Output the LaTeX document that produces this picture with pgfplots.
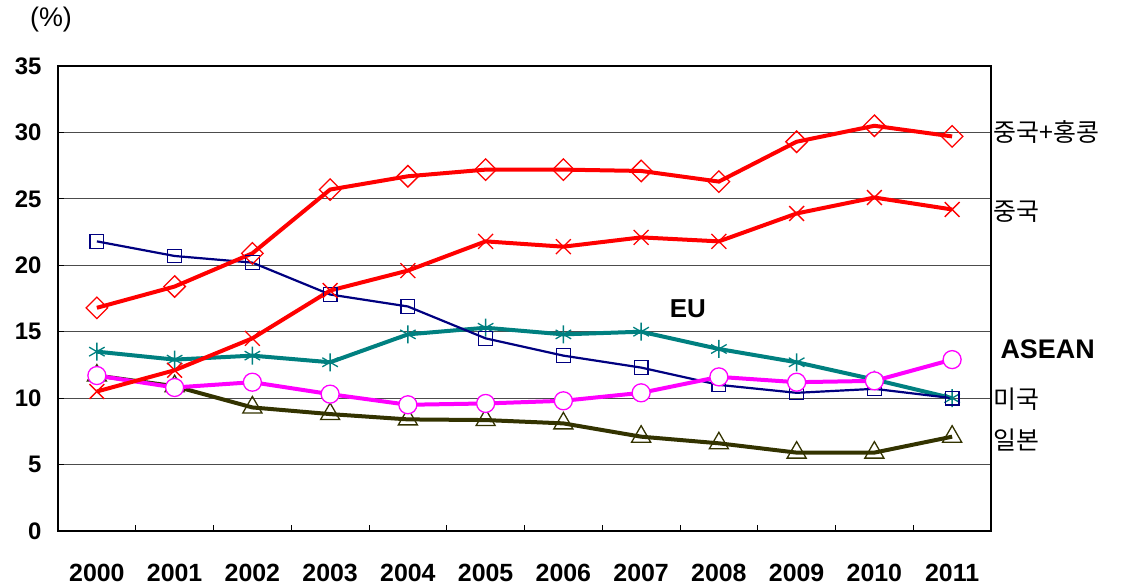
\documentclass[border=0pt]{standalone}
\usepackage{fontspec}
\setmainfont{Liberation Sans}
\newfontfamily\kr{Noto Sans CJK KR}
\usepackage{pgfplots}
\pgfplotsset{compat=1.18}
\definecolor{cnred}{RGB}{255,0,0}
\definecolor{eunavy}{RGB}{0,0,128}
\definecolor{asteal}{RGB}{0,128,128}
\definecolor{usmag}{RGB}{255,0,255}
\definecolor{jpolive}{RGB}{51,51,0}
\begin{document}
\begin{tikzpicture}
\begin{axis}[
  at={(0,0)}, anchor=south west,
  scale only axis, width=933bp, height=465bp,
  xmin=-0.5, xmax=11.5, ymin=0, ymax=35,
  clip=false,
  axis line style={black, line width=1.5bp},
  ytick={0,5,...,35},
  xtick={0.5,1.5,...,10.5}, xticklabels={},
  extra x ticks={0,1,...,11},
  extra x tick labels={2000,2001,2002,2003,2004,2005,2006,2007,2008,2009,2010,2011},
  extra x tick style={major tick length=0pt, xticklabel style={yshift=-30bp}},
  xtick pos=left, ytick pos=left,
  major tick length=6bp,
  tick style={black, line width=1bp},
  ymajorgrids, major grid style={black!70, line width=1bp},
  xticklabel style={font=\bfseries\fontsize{25}{25}\selectfont},
  yticklabel style={font=\bfseries\fontsize{24}{24}\selectfont, xshift=-13bp},
  /pgf/number format/assume math mode=true,
]
% Japan
\addplot[jpolive, line width=4bp, mark=triangle, mark size=11bp,
  mark options={solid, fill=white, draw=jpolive, line width=1.3bp}] coordinates {
 (0,11.7) (1,10.9) (2,9.3) (3,8.8) (4,8.4) (5,8.35) (6,8.1) (7,7.1) (8,6.6) (9,5.9) (10,5.9) (11,7.1)};
% ASEAN
\addplot[asteal, line width=4bp, mark=asterisk, mark size=9bp,
  mark options={solid, draw=asteal, line width=1.3bp}] coordinates {
 (0,13.5) (1,12.9) (2,13.2) (3,12.7) (4,14.8) (5,15.3) (6,14.8) (7,15.0) (8,13.7) (9,12.7) (10,11.4) (11,10.0)};
% EU
\addplot[eunavy, line width=2.2bp, mark=square, mark size=6.8bp,
  mark options={solid, fill=white, draw=eunavy, line width=1.3bp}] coordinates {
 (0,21.8) (1,20.7) (2,20.2) (3,17.8) (4,16.9) (5,14.5) (6,13.2) (7,12.3) (8,11.0) (9,10.4) (10,10.7) (11,10.0)};
% US
\addplot[usmag, line width=4bp, mark=*, mark size=9bp,
  mark options={solid, fill=white, draw=usmag, line width=1.3bp}] coordinates {
 (0,11.7) (1,10.8) (2,11.2) (3,10.3) (4,9.5) (5,9.6) (6,9.8) (7,10.4) (8,11.6) (9,11.2) (10,11.3) (11,12.9)};
% China
\addplot[cnred, line width=4bp, mark=x, mark size=10.5bp,
  mark options={solid, draw=cnred, line width=1.3bp}] coordinates {
 (0,10.5) (1,12.1) (2,14.5) (3,18.1) (4,19.6) (5,21.8) (6,21.4) (7,22.1) (8,21.8) (9,23.9) (10,25.1) (11,24.2)};
% China + HK
\addplot[cnred, line width=4bp, mark=square, mark size=7.6bp,
  mark options={solid, fill=white, draw=cnred, line width=1.3bp, rotate=45}] coordinates {
 (0,16.8) (1,18.4) (2,20.9) (3,25.7) (4,26.7) (5,27.2) (6,27.2) (7,27.1) (8,26.3) (9,29.3) (10,30.5) (11,29.7)};

\node[anchor=west, inner sep=0pt, font=\kr\fontsize{25}{25}\selectfont] at (axis cs:11.53,30.0) {중국+홍콩};
\node[anchor=west, inner sep=0pt, font=\kr\fontsize{25}{25}\selectfont] at (axis cs:11.53,24.0) {중국};
\node[anchor=west, inner sep=0pt, font=\kr\fontsize{25}{25}\selectfont] at (axis cs:11.53,9.93) {미국};
\node[anchor=west, inner sep=0pt, font=\kr\fontsize{25}{25}\selectfont] at (axis cs:11.53,6.85) {일본};
\node[anchor=west, inner sep=0pt, font=\bfseries\fontsize{27}{27}\selectfont] at (axis cs:11.62,13.7) {ASEAN};
\node[inner sep=0pt, font=\bfseries\fontsize{26}{26}\selectfont] at (axis cs:7.6,16.7) {EU};
\node[inner sep=0pt, font=\fontsize{27}{27}\selectfont] at (axis cs:-0.59,38.46) {(\%)};
\end{axis}
\pgfresetboundingbox
\path[use as bounding box] (-58bp,-56bp) rectangle (1069bp,531bp);
\end{tikzpicture}
\end{document}
